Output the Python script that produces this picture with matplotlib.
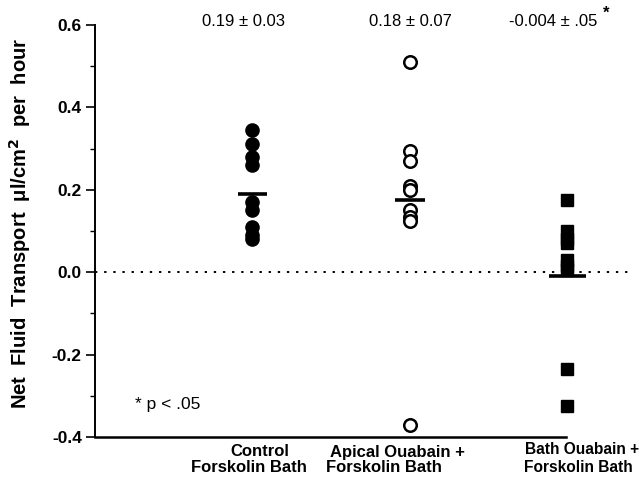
import matplotlib
matplotlib.use("Agg")
import matplotlib.pyplot as plt
import numpy as np

plt.rcParams['font.family'] = ['Liberation Sans', 'DejaVu Sans']

categories = ["Control", "Apical Ouabain", "Bath Ouabain"]
control = [0.345, 0.31, 0.28, 0.26, 0.17, 0.15, 0.11, 0.09, 0.08]
apical = [0.51, 0.295, 0.27, 0.21, 0.20, 0.15, 0.135, 0.125, -0.37]
bath = [0.175, 0.10, 0.08, 0.07, 0.03, 0.015, 0.005, -0.235, -0.325]
means = [0.19, 0.175, -0.01]
mean_labels = ["0.19 ± 0.03", "0.18 ± 0.07", "-0.004 ± .05"]
yticks = [0.6, 0.4, 0.2, 0.0, -0.2, -0.4]
ytick_labels = ["0.6", "0.4", "0.2", "0.0", "-0.2", "-0.4"]

fig = plt.figure(figsize=(6.42, 4.78), dpi=100)
W, H = 642, 478
ax = fig.add_axes([95 / W, (H - 437) / H, (632 - 95) / W, (437 - 25) / H])

xs = [1, 2, 3]
ax.plot([xs[0]] * len(control), control, 'o', color='black', markersize=9.5, zorder=3)
ax.plot([xs[1]] * len(apical), apical, 'o', markerfacecolor='white', markeredgecolor='black',
        markeredgewidth=1.8, markersize=9.0, zorder=3)
ax.plot([xs[2]] * len(bath), bath, 's', color='black', markersize=9.0, zorder=3)

half = [0.095, 0.095, 0.12]
for x, m, hw in zip(xs, means, half):
    ax.plot([x - hw, x + hw], [m, m], color='black', lw=2.6, solid_capstyle='butt', zorder=4)

ax.axhline(0.0, color='black', lw=1.4, linestyle=(0, (1.2, 3.5)), zorder=1)

ax.set_xlim(0.0, 3.41)
ax.set_ylim(-0.4, 0.6)
ax.set_yticks(yticks)
ax.set_yticklabels(ytick_labels, fontsize=12.5, fontweight='bold')
ax.set_yticks(np.arange(-0.3, 0.6, 0.2), minor=True)
ax.tick_params(axis='y', which='major', length=6.5, width=1.2, direction='out', pad=3)
ax.tick_params(axis='y', which='minor', length=3.5, width=1.0, direction='out')
ax.set_xticks([])

ax.spines['top'].set_visible(False)
ax.spines['right'].set_visible(False)
ax.spines['left'].set_linewidth(1.4)
ax.spines['bottom'].set_linewidth(1.8)
ax.spines['bottom'].set_bounds(0.0, 2.99)

fig.text(20 / W, 1 - 223 / H, "Net  Fluid  Transport  μl/cm$^{\\mathbf{2}}$  per  hour",
         rotation=90, ha='center', va='center', fontsize=14.5, fontweight='bold')

# mean annotations
ann_x = [244, 410, 553]
for px, t in zip(ann_x, mean_labels):
    fig.text(px / W, 1 - 22 / H, t, ha='center', va='center', fontsize=12)
fig.text(606 / W, 1 - 13 / H, "*", ha='center', va='center', fontsize=12, fontweight='bold')

fig.text(135 / W, 1 - 404 / H, "* p < .05", ha='left', va='center', fontsize=12.5)

# category labels
fig.text(260 / W, 1 - 452 / H, "Control", ha='center', va='center', fontsize=12, fontweight='bold')
fig.text(249 / W, 1 - 468 / H, "Forskolin Bath", ha='center', va='center', fontsize=12, fontweight='bold')
fig.text(330 / W, 1 - 452 / H, "Apical Ouabain +", ha='left', va='center', fontsize=12, fontweight='bold')
fig.text(326 / W, 1 - 468 / H, "Forskolin Bath", ha='left', va='center', fontsize=12, fontweight='bold')
fig.text(525 / W, 1 - 449 / H, "Bath Ouabain +", ha='left', va='center', fontsize=11.2, fontweight='bold')
fig.text(524 / W, 1 - 467 / H, "Forskolin Bath", ha='left', va='center', fontsize=11.2, fontweight='bold')

fig.savefig("out.png", dpi=100)
